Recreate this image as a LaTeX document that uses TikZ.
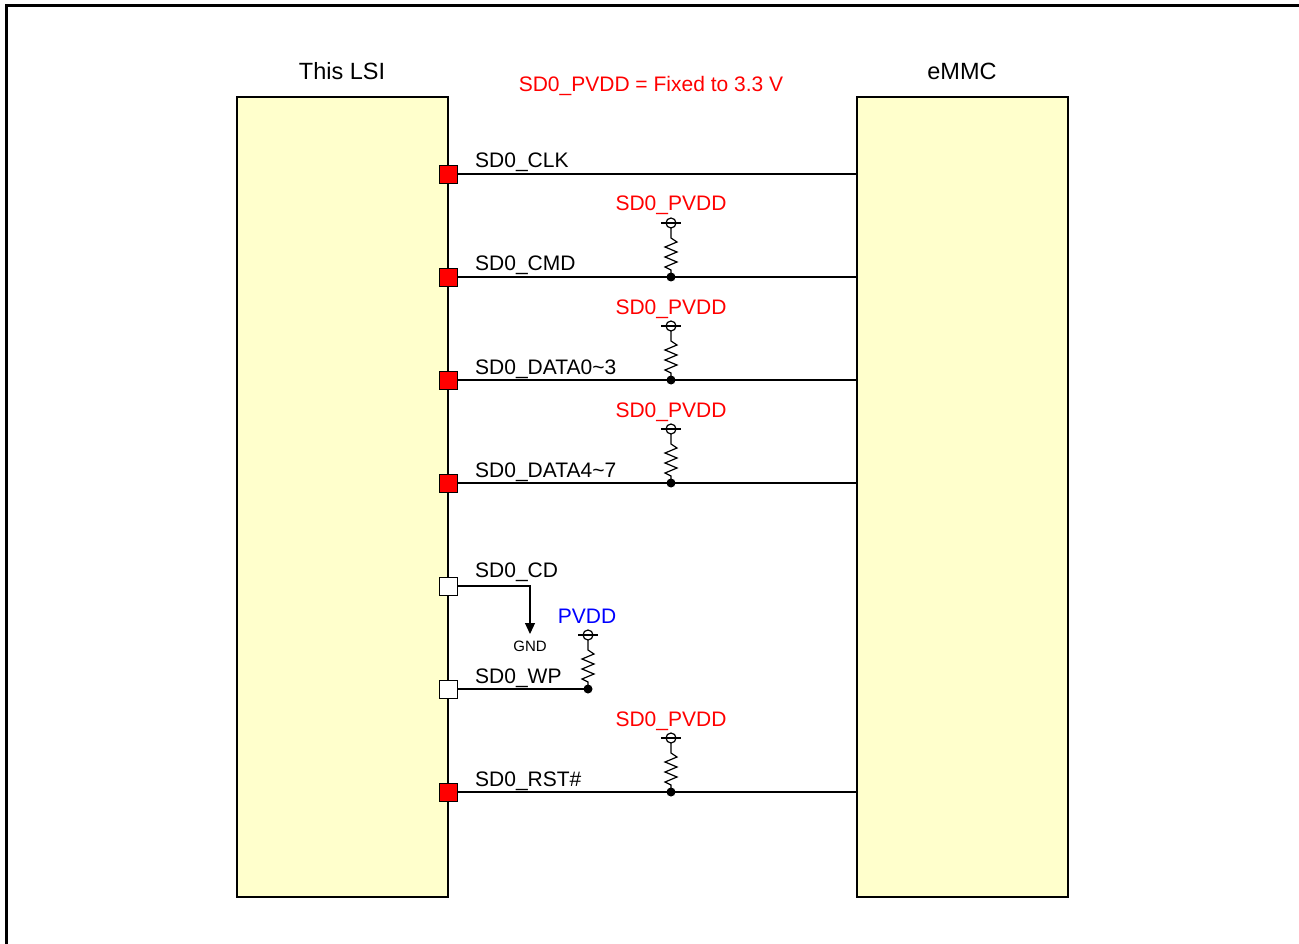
\documentclass[tikz,border=0pt]{standalone}
\usepackage{fontspec}
\setmainfont{Liberation Sans}
\usetikzlibrary{arrows.meta}
\definecolor{boxfill}{HTML}{FFFFCC}
\tikzset{
  chip/.style={draw, line width=1.6, fill=boxfill, minimum width=211, minimum height=800, inner sep=0},
  pin/.style={draw, line width=0.8, fill=red, minimum size=18, inner sep=0},
  pinw/.style={pin, fill=white},
  sig/.style={anchor=base west, inner sep=0, font=\fontsize{21}{25}\selectfont},
  rail/.style={anchor=base, inner sep=0, text=red, font=\fontsize{21}{25}\selectfont},
  title/.style={anchor=base, inner sep=0, font=\fontsize{23.5}{28}\selectfont},
  wire/.style={line width=1.2},
  pullup/.pic={
    \draw[wire] (0,0) -- (0,-7) -- (-6,-10) -- (6,-15) -- (-6,-20) -- (6,-25) -- (-6,-30) -- (6,-35) -- (0,-39) -- (0,-49);
    \draw[wire] (0,-54) circle (5);
    \draw[wire] (-10,-54) -- (10,-54);
    \fill (0,0) circle (4.5);
  }
}
\begin{document}
\begin{tikzpicture}[x=1pt, y=-1pt]
        \useasboundingbox (0,0) rectangle (1299,944);
        \draw[line width=3] (6,944) -- (6,6) -- (1299,6);
        % the two chips
        \node[chip] (lsi) at (342.5,497) {};   \node[title] at (342,80) {This LSI};
        \node[chip] (emmc) at (962.5,497) {};  \node[title] at (962,80) {eMMC};
        \node[rail] (note) at (651,92) {SD0\_PVDD = Fixed to 3.3 V};
        % pins of this LSI
        \node[pin] (clk) at (448,174) {};   \node[sig] at (475,168) {SD0\_CLK};
        \node[pin] (cmd) at (448,277) {};   \node[sig] at (475,271) {SD0\_CMD};
        \node[pin] (dat0) at (448,380) {};  \node[sig] at (475,374) {SD0\_DATA0\textasciitilde3};
        \node[pin] (dat4) at (448,483) {};  \node[sig] at (475,477) {SD0\_DATA4\textasciitilde7};
        \node[pinw] (cd) at (448,586) {};   \node[sig] at (475,577) {SD0\_CD};
        \node[pinw] (wp) at (448,689) {};   \node[sig] at (475,683) {SD0\_WP};
        \node[pin] (rst) at (448,792) {};   \node[sig] at (475,786) {SD0\_RST\#};
        % signal lines
        \draw[wire] (clk.east) -- (clk.east -| emmc.west);
        \draw[wire] (cmd.east) -- (cmd.east -| emmc.west);
        \draw[wire] (dat0.east) -- (dat0.east -| emmc.west);
        \draw[wire] (dat4.east) -- (dat4.east -| emmc.west);
        \draw[wire] (rst.east) -- (rst.east -| emmc.west);
        % pull-ups
        \pic at (671,277) {pullup};  \node[rail] at (671,211) {SD0\_PVDD};
        \pic at (671,380) {pullup};  \node[rail] at (671,314) {SD0\_PVDD};
        \pic at (671,483) {pullup};  \node[rail] at (671,417) {SD0\_PVDD};
        \pic at (671,792) {pullup};  \node[rail] at (671,726) {SD0\_PVDD};
        \coordinate (wpend) at (588,689);
        \pic at (wpend) {pullup};    \node[rail, text=blue] at (587,623) {PVDD};
        \draw[wire] (wp.east) -- (wpend);
        % SD0_CD to GND
        \coordinate (gnd) at (530,634);
        \draw[wire, -{Triangle[width=10, length=11]}] (cd.east) -| (gnd);
        \node[anchor=base, inner sep=0, font=\fontsize{15}{18}\selectfont] at (530,651) {GND};
\end{tikzpicture}
\end{document}
